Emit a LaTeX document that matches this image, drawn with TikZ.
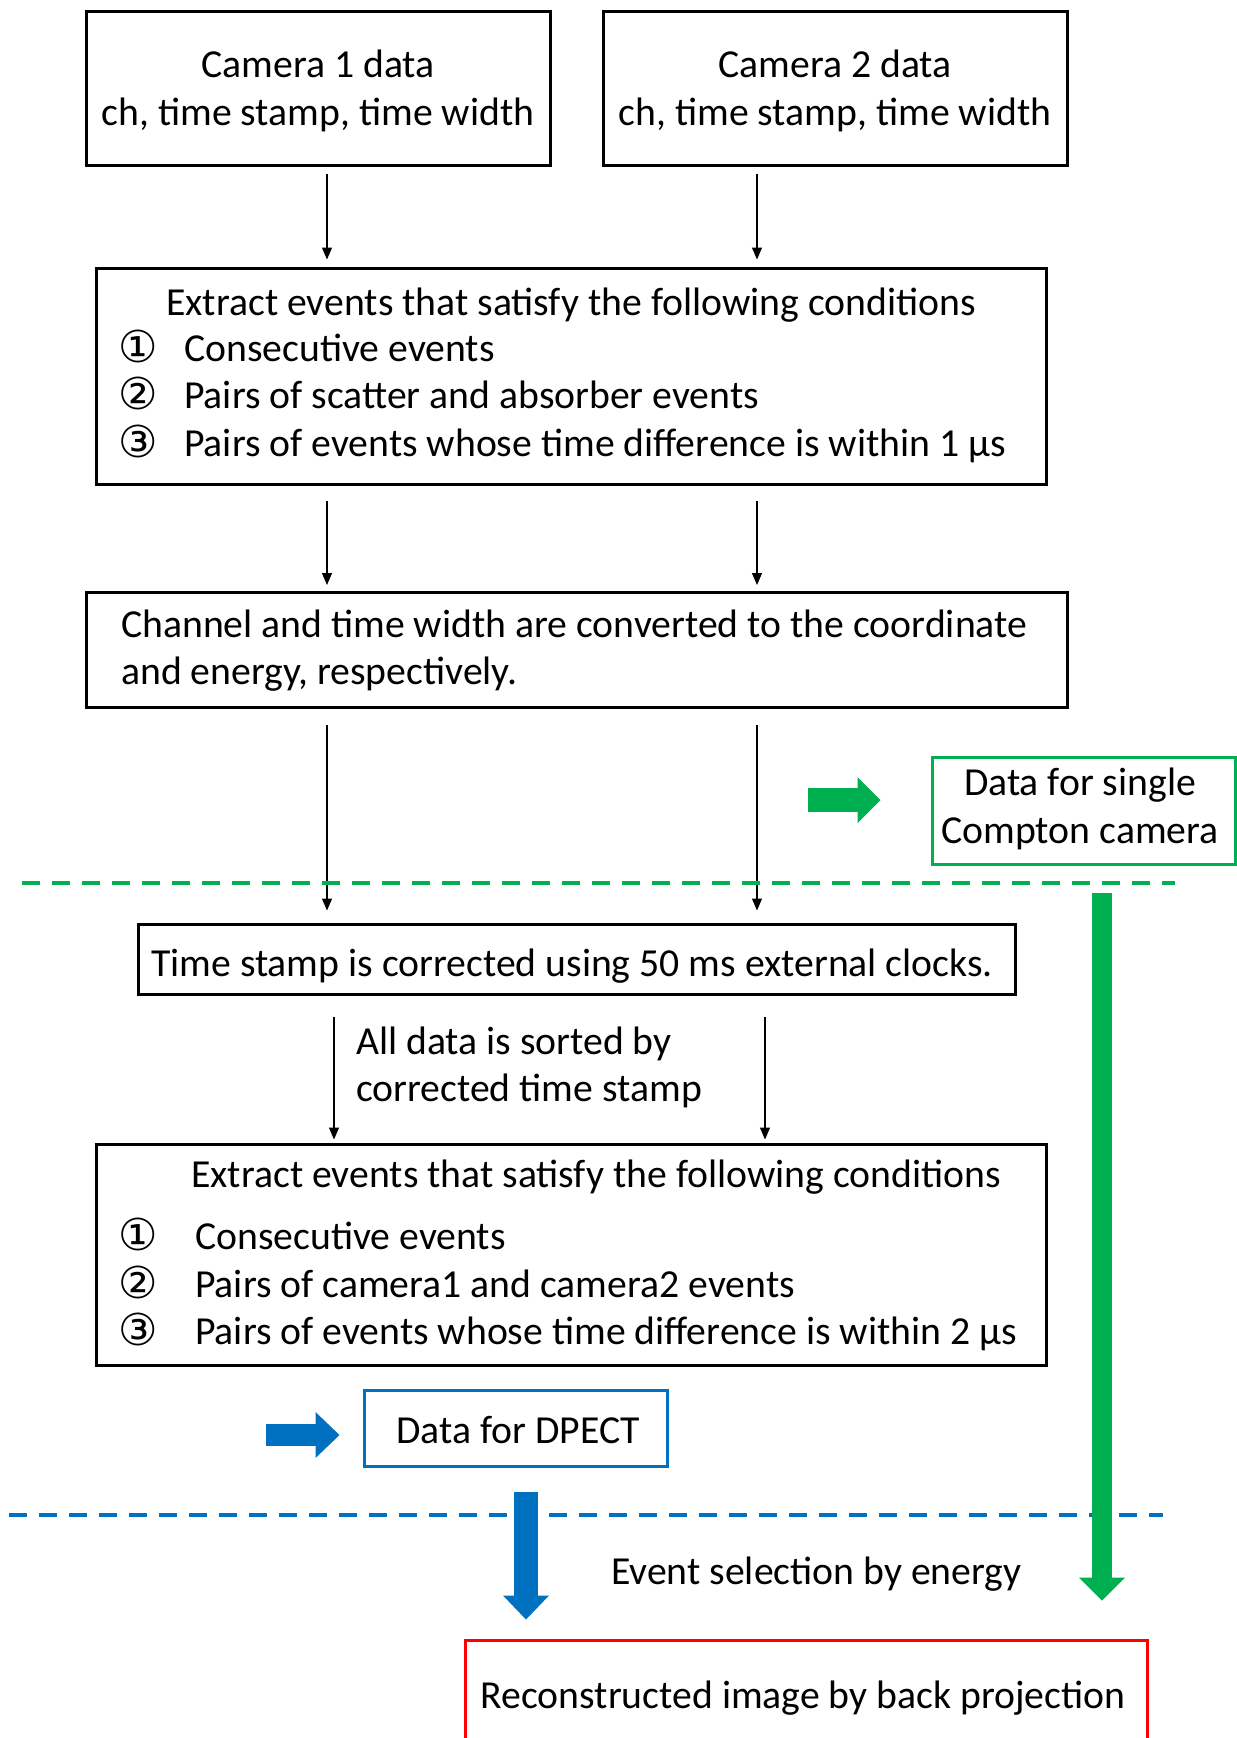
\documentclass[tikz,border=0pt]{standalone}
\usepackage{fontspec}
\setmainfont{Carlito}
\newfontfamily\circfont{DejaVu Sans}
\usepackage{tikz}
\usetikzlibrary{positioning,arrows.meta,calc}
\definecolor{dgreen}{RGB}{0,176,80}
\definecolor{dblue}{RGB}{0,112,192}
\definecolor{dred}{RGB}{255,0,0}
\tikzset{
box/.style={
  draw, rectangle,
  line width=3pt,
  inner sep=0pt
},
txt/.style={font=\fontsize{39.7}{48}\selectfont, inner sep=0pt},
lab/.style={txt, anchor=base west},
mid/.style={txt, anchor=base},
num/.style={lab, font=\fontsize{44}{48}\circfont},
flow/.style={line width=1.2pt, -{Triangle[length=12pt,width=10pt]}},
gfat/.style={dgreen, line width=22pt, -{Triangle[width=46pt,length=23pt,line width=0pt]}},
bfat/.style={dblue, line width=23pt, -{Triangle[width=46pt,length=24pt,line width=0pt]}},
sep/.style={line width=4pt, dash pattern=on 18pt off 12pt},
}

\begin{document}
\begin{tikzpicture}[x=1pt,y=-1pt]
\path[use as bounding box] (0,0) rectangle (1237,1738);
\clip (0,0) rectangle (1237,1738);

% boxes
\node[box, minimum width=464pt, minimum height=154pt] (cam1) at (318,88) {};
\node[box, minimum width=464pt, minimum height=154pt] (cam2) at (835,88) {};
\node[box, minimum width=950pt, minimum height=216pt] (ext1) at (571,376) {};
\node[box, minimum width=981pt, minimum height=115pt] (conv) at (576.5,650) {};
\node[box, draw=dgreen, minimum width=303pt, minimum height=107pt] (single) at (1083.5,810.5) {};
\node[box, minimum width=877pt, minimum height=70pt] (stamp) at (576.5,959) {};
\node[box, minimum width=950pt, minimum height=221pt] (ext2) at (571,1254.5) {};
\node[box, draw=dblue, minimum width=303pt, minimum height=76pt] (dpect) at (515.5,1428) {};
\node[box, draw=dred, minimum width=682pt, minimum height=160pt] (recon) at (806,1720) {};

% texts
\node[mid] (cam1a) at (318,77) {Camera 1 data};
\node[mid] (cam1b) at (318,125) {ch, time stamp, time width};
\node[mid] (cam2a) at (835,77) {Camera 2 data};
\node[mid] (cam2b) at (835,125) {ch, time stamp, time width};

\node[lab] (ext1t) at (166,315) {Extract events that satisfy the following conditions};
\node[num] (ext1n1) at (118,362) {①};
\node[num] (ext1n2) at (118,409) {②};
\node[num] (ext1n3) at (118,457) {③};
\node[lab] (ext1a) at (184,361) {Consecutive events};
\node[lab] (ext1b) at (184,408) {Pairs of scatter and absorber events};
\node[lab] (ext1c) at (184,456) {Pairs of events whose time difference is within 1 µs};

\node[lab] (conva) at (121,637) {Channel and time width are converted to the coordinate};
\node[lab] (convb) at (121,684) {and energy, respectively.};

\node[mid] (singlea) at (1080,795) {Data for single};
\node[mid] (singleb) at (1080,843) {Compton camera};

\node[mid] (stampa) at (572,976) {Time stamp is corrected using 50 ms external clocks.};

\node[lab] (sorta) at (356,1054) {All data is sorted by};
\node[lab] (sortb) at (356,1101) {corrected time stamp};

\node[lab] (ext2t) at (191,1187) {Extract events that satisfy the following conditions};
\node[num] (ext2n1) at (118,1250) {①};
\node[num] (ext2n2) at (118,1298) {②};
\node[num] (ext2n3) at (118,1345) {③};
\node[lab] (ext2a) at (195,1249) {Consecutive events};
\node[lab] (ext2b) at (195,1297) {Pairs of camera1 and camera2 events};
\node[lab] (ext2c) at (195,1344) {Pairs of events whose time difference is within 2 µs};

\node[mid] (dpecta) at (518,1443) {Data for DPECT};
\node[lab] (ensel) at (611,1584) {Event selection by energy};
\node[mid] (recona) at (803,1708) {Reconstructed image by back projection};

% thin arrows
\coordinate (colA) at (327,0);
\coordinate (colB) at (757,0);
\coordinate (colC) at (334,0);
\coordinate (colD) at (765,0);
\foreach \c in {colA,colB}{
  \draw[flow, shorten <=7pt, shorten >=7pt] (cam1.south -| \c) -- (ext1.north -| \c);
  \draw[flow, shorten <=15pt, shorten >=6pt] (ext1.south -| \c) -- (conv.north -| \c);
  \draw[flow, shorten <=16pt, shorten >=12pt] (conv.south -| \c) -- (stamp.north -| \c);
}
\foreach \c in {colC,colD}
  \draw[flow, shorten <=21pt, shorten >=3pt] (stamp.south -| \c) -- (ext2.north -| \c);

% separators
\draw[sep, dgreen] (22,883) -- (1175,883);
\draw[sep, dblue] (9,1515) -- (1163,1515);

% block arrows
\coordinate (gstart) at (808,800);
\draw[gfat, line width=24pt, shorten >=50pt] (gstart) -- (single.west |- gstart);
\coordinate (bstart) at (266,1435);
\draw[bfat, line width=22pt, shorten >=23pt] (bstart) -- (dpect.west |- bstart);
\coordinate (gtop) at (1102,893);
\draw[gfat, line width=20pt, shorten >=38pt] (gtop) -- (gtop |- recon.north);
\coordinate (bcol) at (526,0);
\draw[bfat, line width=24pt, shorten <=24pt, shorten >=19pt] (dpect.south -| bcol) -- (recon.north -| bcol);
\end{tikzpicture}
\end{document}
